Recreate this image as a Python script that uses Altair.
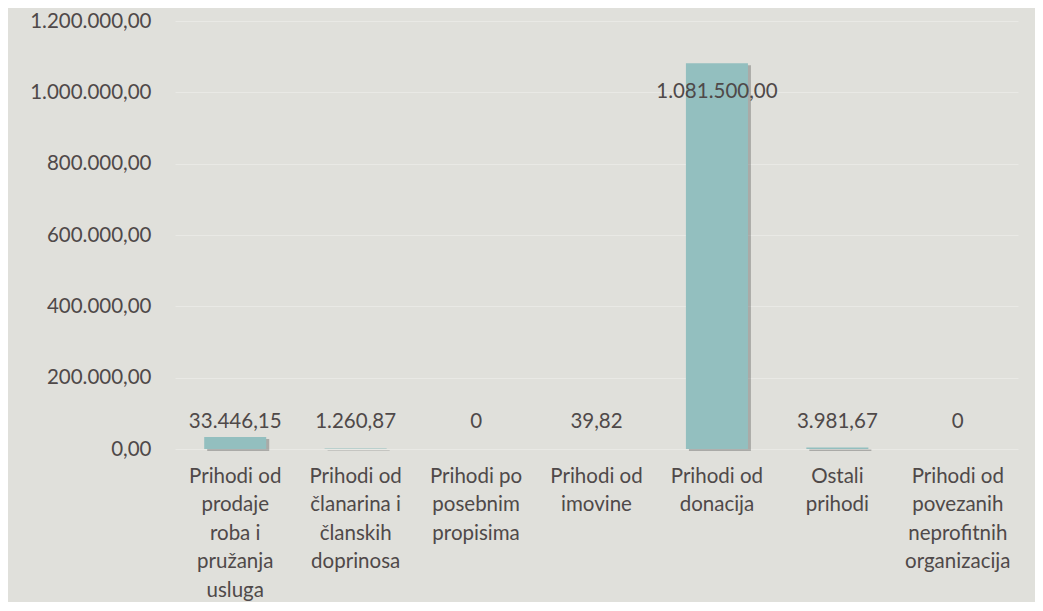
import json
import altair as alt
import pandas as pd

categories = [
    "Prihodi od prodaje roba i pružanja usluga",
    "Prihodi od članarina i članskih doprinosa",
    "Prihodi po posebnim propisima",
    "Prihodi od imovine",
    "Prihodi od donacija",
    "Ostali prihodi",
    "Prihodi od povezanih neprofitnih organizacija",
]
wrapped = [
    ["Prihodi od", "prodaje", "roba i", "pružanja", "usluga"],
    ["Prihodi od", "članarina i", "članskih", "doprinosa"],
    ["Prihodi po", "posebnim", "propisima"],
    ["Prihodi od", "imovine"],
    ["Prihodi od", "donacija"],
    ["Ostali", "prihodi"],
    ["Prihodi od", "povezanih", "neprofitnih", "organizacija"],
]
values = [33446.15, 1260.87, 0, 39.82, 1081500.00, 3981.67, 0]
value_labels = ["33.446,15", "1.260,87", "0", "39,82", "1.081.500,00", "3.981,67", "0"]
y_ticks = [0, 200000, 400000, 600000, 800000, 1000000, 1200000]
y_tick_labels = ["0,00", "200.000,00", "400.000,00", "600.000,00", "800.000,00",
                 "1.000.000,00", "1.200.000,00"]

df = pd.DataFrame({"cat": categories, "value": values, "label": value_labels})

FONT = "Lato"
FS = 20.5
TXT = "#4f4949"
BAR = "#93bfbf"

label_map = json.dumps(dict(zip(categories, wrapped)), ensure_ascii=False)
ytick_map = json.dumps(dict(zip([str(t) for t in y_ticks], y_tick_labels)))

x = alt.X("cat:N", sort=categories, title=None,
          scale=alt.Scale(paddingInner=0.485, paddingOuter=0.2425),
          axis=alt.Axis(labelExpr=f"{label_map}[datum.value]", labelAngle=0,
                        labelFont=FONT, labelFontSize=FS, labelColor=TXT,
                        labelLineHeight=28.5, labelPadding=17, ticks=False,
                        domain=False, labelBaseline="top"))
y = alt.Y("value:Q", title=None,
          scale=alt.Scale(domain=[0, 1200000], nice=False),
          axis=alt.Axis(values=y_ticks, labelExpr=f"{ytick_map}[''+datum.value]",
                        labelFont=FONT, labelFontSize=FS, labelColor=TXT,
                        labelPadding=24, ticks=False, domain=False,
                        grid=True, gridColor="#e9e9e5", gridWidth=1))

base = alt.Chart(df)

shadow = base.mark_bar(color="#2e2e2e", opacity=0.3, xOffset=3, yOffset=2).encode(
    x=x, y=y)
bars = base.mark_bar(color=BAR).encode(x=x, y=y)
texts = base.transform_calculate(
    ly="datum.value > 500000 ? 925000 : 0"
).mark_text(font=FONT, fontSize=FS, color=TXT, dy=-27, baseline="middle").encode(
    x=alt.X("cat:N", sort=categories),
    y=alt.Y("ly:Q"),
    text="label:N",
)

chart = alt.layer(shadow, bars, texts).properties(
    width=843, height=428,
    autosize=alt.AutoSizeParams(type="none"),
    padding={"left": 167, "top": 13, "right": 17, "bottom": 153},
    background="#e0e0db",
).configure_view(stroke=None)

chart.save("out.html", embed_options={"renderer": "svg", "actions": False})
